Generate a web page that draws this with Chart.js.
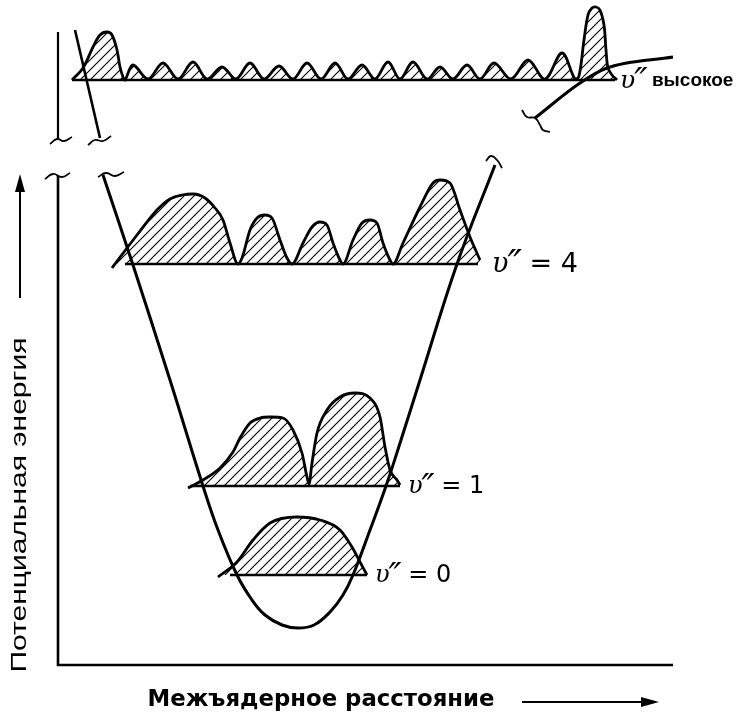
<!DOCTYPE html>
<html>
<head>
<meta charset="utf-8">
<script src="https://cdn.jsdelivr.net/npm/chart.js@4"></script>
<style>
  html, body { margin: 0; background: #fff; }
  #wrap { width: 741px; height: 715px; }
</style>
</head>
<body>
<div id="wrap"><canvas id="chart"></canvas></div>
<script>
// values: r = internuclear distance, e = energy (arbitrary units, origin at the axis corner)

// potential well
const wellR = [45, 75, 112, 145, 160, 179, 194, 207, 224, 240, 256, 272, 285, 295, 312, 328, 343, 362, 399, 437];
const wellE = [490, 400, 285, 179, 135, 90, 65, 50, 40, 37, 40, 53, 70, 90, 135, 179, 225, 285, 401, 500];

// the upper (broken off) part of the walls
const upperLeftR = [17, 42];
const upperLeftE = [635, 527];
const upperRightR = [477, 522, 549, 615];
const upperRightE = [547, 582, 597, 608];

// vibrational levels
const levelNames = ["0", "1", "4", "высокое"];
const levelE = [90, 179, 401, 585];
const levelFrom = [172, 132, 67, 14];
const levelTo = [309, 342, 420, 557];

// probability density above each level (r, height above the level)
const v0R = [160, 179, 195, 212, 239, 262, 282, 294, 302, 309];
const v0H = [-2, 13, 35, 52, 58, 55, 45, 28, 13, 0];

const v1R = [130, 145, 162, 175, 182, 192, 202, 212, 225, 235, 244, 249, 251, 254, 259, 269, 282, 297, 312, 322, 327, 332, 339, 342];
const v1H = [-2, 6, 18, 34, 48, 63, 68, 69, 68, 56, 33, 9, 2, 23, 53, 76, 89, 93, 88, 69, 39, 16, 6, 1];

const v4R = [54, 79, 99, 112, 124, 135, 147, 157, 165, 172, 180, 184, 192, 199, 207, 214, 222, 229, 234, 245, 254, 262, 269, 275, 282, 285, 295, 304, 312, 319, 325, 332, 335, 345, 362, 375, 382, 392, 402, 412, 422];
const v4H = [-4, 29, 54, 65, 69, 70, 66, 56, 44, 21, 0, 6, 34, 46, 49, 46, 24, 6, 0, 21, 37, 42, 39, 21, 4, 0, 24, 41, 44, 41, 21, 4, 0, 21, 57, 81, 84, 81, 54, 27, 4];

const vhR = [14, 25, 35, 42, 49, 54, 59, 62, 65, 67, 75, 90, 105, 120, 135, 149, 164, 178, 192, 206, 221, 235, 249, 263, 277, 290, 304, 317, 330, 342, 355, 369, 382, 395, 409, 422, 436, 453, 470, 487, 504, 517, 521, 526, 530, 534, 538, 542, 546, 548, 550, 554, 559];
const vhH = [0, 12, 33, 45, 48, 45, 30, 13, 3, 0, 15, 1, 17, 1, 18, 1, 13, 1, 17, 1, 14, 1, 17, 1, 17, 1, 15, 1, 18, 1, 18, 1, 13, 1, 15, 1, 17, 1, 20, 1, 27, 1, 4, 40, 65, 72, 73, 70, 55, 30, 12, 5, 0];

// axes (the energy axis is broken)
const axisLowTop = 489;
const axisUpper = [526, 633];
const axisREnd = 615;

// break marks
const breaks = [
  { r: [-13, -5, 4, 12], e: [486, 491, 488, 492] },
  { r: [40, 48, 57, 66], e: [488, 492, 489, 493] },
  { r: [-8, -1, 6, 14], e: [521, 526, 524, 528] },
  { r: [30, 37, 45, 53], e: [520, 525, 524, 529] },
  { r: [428, 433, 439, 444], e: [504, 509, 505, 497] },
  { r: [464, 469, 477, 482, 485, 492], e: [555, 548, 547, 540, 535, 533] },
];

const canvas = document.getElementById("chart");
const ctx = canvas.getContext("2d");

const hatch = (() => {
  const n = 10;
  const c = document.createElement("canvas");
  c.width = n;
  c.height = n;
  const g = c.getContext("2d");
  g.strokeStyle = "#000";
  g.lineWidth = 1.1;
  g.beginPath();
  g.moveTo(0, n); g.lineTo(n, 0);
  g.moveTo(-2, 2); g.lineTo(2, -2);
  g.moveTo(n - 2, n + 2); g.lineTo(n + 2, n - 2);
  g.stroke();
  return ctx.createPattern(c, "repeat");
})();

const pts = (rs, es) => rs.map((r, i) => ({ x: r, y: es[i] }));

const line = (data, width, extra = {}) => ({
  data,
  showLine: true,
  borderColor: "#000",
  borderWidth: width,
  pointRadius: 0,
  fill: false,
  tension: 0,
  clip: false,
  ...extra,
});

const profile = (rs, hs, k, extra = { cubicInterpolationMode: "monotone" }) =>
  line(pts(rs, hs.map((h) => levelE[k] + h)), 2.8, {
    fill: { value: levelE[k] },
    backgroundColor: hatch,
    borderJoinStyle: "round",
    ...extra,
  });

const datasets = [
  profile(v0R, v0H, 0),
  profile(v1R, v1H, 1),
  profile(v4R, v4H, 2),
  profile(vhR, vhH, 3, { tension: 0.35 }),
  ...levelE.map((e, k) => line(pts([levelFrom[k], levelTo[k]], [e, e]), 2.3)),
  line(pts(wellR, wellE), 3, { tension: 0.4 }),
  line(pts(upperLeftR, upperLeftE), 2.6),
  line(pts(upperRightR, upperRightE), 3, { cubicInterpolationMode: "monotone" }),
  line(pts([0, 0, axisREnd], [axisLowTop, 0, 0]), 2.6),
  line(pts([0, 0], axisUpper), 2.2),
  ...breaks.map((b) => line(pts(b.r, b.e), 1.8, { tension: 0.5 })),
];

const fitText = (c, text, cx, cy, width, font) => {
  c.font = font;
  const w = c.measureText(text).width;
  c.save();
  c.translate(cx, cy);
  c.scale(width / w, 1);
  c.textAlign = "center";
  c.textBaseline = "middle";
  c.fillText(text, 0, 0);
  c.restore();
};

const arrow = (c, x1, y1, x2, y2) => {
  const a = Math.atan2(y2 - y1, x2 - x1);
  c.beginPath();
  c.moveTo(x1, y1);
  c.lineTo(x2, y2);
  c.lineWidth = 2;
  c.stroke();
  c.save();
  c.translate(x2, y2);
  c.rotate(a);
  c.beginPath();
  c.moveTo(4, 0);
  c.lineTo(-14, -5);
  c.lineTo(-14, 5);
  c.closePath();
  c.fill();
  c.restore();
};

// "υ″" followed by the rest of the label
const levelLabel = (c, px, py, size, rest, restFont) => {
  c.font = `italic ${size}px 'DejaVu Serif'`;
  c.fillText("υ", px, py);
  px += c.measureText("υ").width;
  c.font = `italic ${Math.round(size * 1.45)}px 'DejaVu Sans'`;
  c.fillText("\u2033", px - 1, py + size * 0.12);
  px += c.measureText("\u2033").width - 2;
  c.font = restFont;
  c.fillText(rest, px, py);
};

const notes = {
  id: "notes",
  afterDraw(chart) {
    const c = chart.ctx;
    const { x, y } = chart.scales;
    c.save();
    c.fillStyle = "#000";
    c.strokeStyle = "#000";
    c.textBaseline = "middle";
    c.textAlign = "left";

    const labelGap = [8, 8, 14, 5];
    const labelSize = [24, 24, 27, 25];
    levelNames.forEach((name, k) => {
      const px = x.getPixelForValue(levelTo[k] + labelGap[k]);
      const py = y.getPixelForValue(levelE[k]) + 1;
      const s = labelSize[k];
      if (k < 3) levelLabel(c, px, py, s, " = " + name, `${s}px 'DejaVu Sans'`);
      else levelLabel(c, px, py, s, " " + name, "bold 19px 'Liberation Sans'");
    });

    fitText(c, "Межъядерное расстояние", x.getPixelForValue(263), y.getPixelForValue(-35), 347, "bold 23px 'DejaVu Sans'");
    arrow(c, x.getPixelForValue(464), y.getPixelForValue(-37), x.getPixelForValue(597), y.getPixelForValue(-37));

    c.save();
    c.translate(x.getPixelForValue(-38), y.getPixelForValue(160));
    c.rotate(-Math.PI / 2);
    fitText(c, "Потенциальная энергия", 0, 0, 335, "22px 'Liberation Sans'");
    c.restore();
    arrow(c, x.getPixelForValue(-38), y.getPixelForValue(367), x.getPixelForValue(-38), y.getPixelForValue(487));
    c.restore();
  },
};

new Chart(ctx, {
  type: "scatter",
  data: { datasets },
  options: {
    responsive: true,
    maintainAspectRatio: false,
    animation: false,
    events: [],
    layout: { padding: 0 },
    plugins: { legend: { display: false }, tooltip: { enabled: false } },
    scales: {
      x: { type: "linear", min: -58, max: 683, display: false },
      y: { type: "linear", min: -50, max: 665, display: false },
    },
  },
  plugins: [notes],
});
</script>
</body>
</html>
